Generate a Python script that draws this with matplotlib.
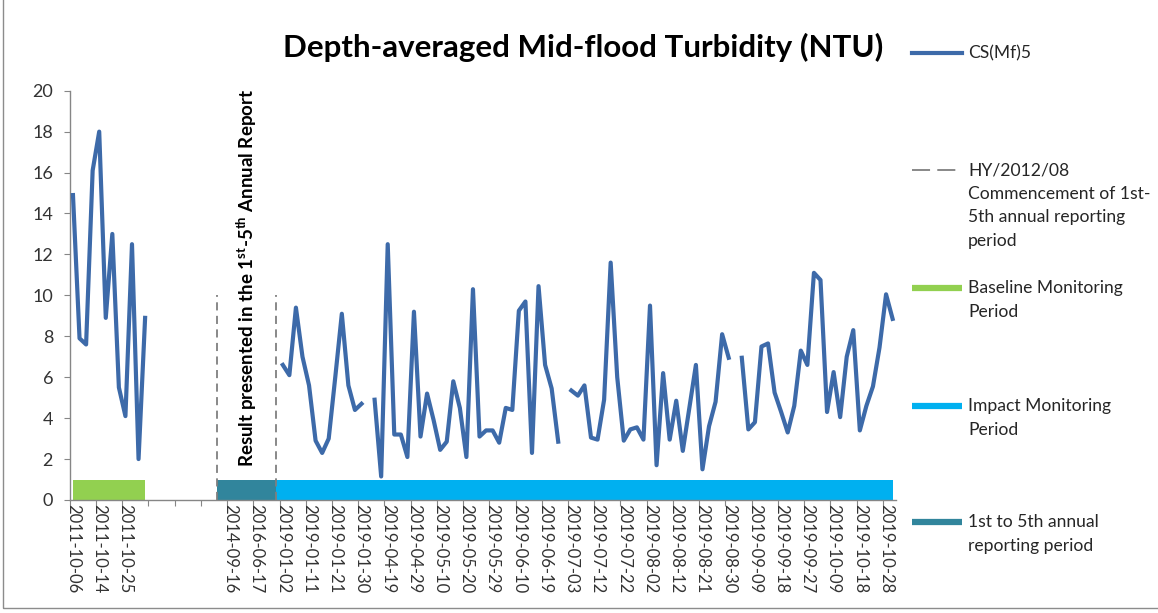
import numpy as np
import matplotlib
matplotlib.use("Agg")
import matplotlib.pyplot as plt
from matplotlib.lines import Line2D
from matplotlib.patches import Rectangle

plt.rcParams['font.family'] = ['Lato', 'DejaVu Sans']
plt.rcParams['mathtext.fontset'] = 'custom'
plt.rcParams['mathtext.rm'] = 'Lato'
plt.rcParams['mathtext.bf'] = 'Lato:bold'

nan = np.nan

# baseline survey (categories 0-11)
baseline_vals = [14.9, 7.9, 7.6, 16.1, 18.0, 8.9, 13.0, 5.5, 4.1, 12.5, 2.0, 8.9]
# 2019 impact monitoring (categories 32-125)
impact_vals = [6.6, 6.1, 9.4, 7.0, 5.6, 2.9, 2.3, 3.0, 6.0, 9.1, 5.6, 4.4, 4.7, nan,
               4.9, 1.15, 12.5, 3.2, 3.2, 2.1, 9.2, 3.1, 5.2, 3.9, 2.45, 2.85, 5.8, 4.5,
               2.1, 10.3, 3.1, 3.4, 3.4, 2.8, 4.5, 4.4, 9.25, 9.7, 2.3, 10.45, 6.6, 5.45,
               2.85, nan,
               5.35, 5.1, 5.6, 3.05, 2.95, 4.9, 11.6, 6.0, 2.9, 3.45, 3.55, 2.95, 9.5,
               1.7, 6.2, 2.95, 4.85, 2.4, 4.5, 6.6, 1.5, 3.6, 4.8, 8.1, 6.95, nan,
               6.95, 3.45, 3.8, 7.5, 7.65, 5.25, 4.3, 3.3, 4.6, 7.3, 6.6, 11.1, 10.75,
               4.3, 6.25, 4.05, 7.0, 8.3, 3.4, 4.6, 5.55, 7.45, 10.05, 8.85]
n_gap = 20  # categories 12-31 without data
n_cat = len(baseline_vals) + n_gap + len(impact_vals)
turbidity = baseline_vals + [nan] * n_gap + impact_vals

# every 4th category is labelled
tick_labels = ["2011-10-06", "2011-10-14", "2011-10-25", "", "", "",
               "2014-09-16", "2016-06-17", "2019-01-02", "2019-01-11", "2019-01-21",
               "2019-01-30", "2019-04-19", "2019-04-29", "2019-05-10", "2019-05-20",
               "2019-05-29", "2019-06-10", "2019-06-19", "2019-07-03", "2019-07-12",
               "2019-07-22", "2019-08-02", "2019-08-12", "2019-08-21", "2019-08-30",
               "2019-09-09", "2019-09-18", "2019-09-27", "2019-10-09", "2019-10-18",
               "2019-10-28"]

# period bars (start / end category)
period_names = ["Baseline Monitoring\nPeriod", "Impact Monitoring\nPeriod",
                "1st to 5th annual\nreporting period"]
period_start = [0, 31, 22]
period_end = [11, 125, 31]
period_colors = ["#92D050", "#00B0F0", "#31859C"]
period_height = 1.0

# HY/2012/08 marker lines
marker_cats = [22, 31]
marker_height = 10

W, H = 1158, 613
fig = plt.figure(figsize=(W / 100, H / 100), dpi=100)
ax = fig.add_axes([69.7 / W, 1 - 500 / H, (895.9 - 69.7) / W, (500 - 90.7) / H])

x = np.arange(n_cat)
for s, e, c in zip(period_start, period_end, period_colors):
    ax.fill_between([s, e], 0, period_height, color=c, lw=0, zorder=1)

ax.vlines(marker_cats, 0, marker_height, colors="#7F7F7F", lw=1.3,
          linestyles=(0, (4.5, 3)), zorder=2)

line_color = "#3D6AA9"
ax.plot(x, turbidity, color=line_color, lw=3.0, zorder=3)

ax.text(np.mean(marker_cats), 1.6,
        r"Result presented in the 1$^{\mathbf{st}}$-5$^{\mathbf{th}}$ Annual Report",
        rotation=90, ha="center", va="bottom", fontsize=13.5, fontweight="bold",
        color="black")

ax.set_xlim(-0.5, n_cat - 0.5)
ax.set_ylim(0, 20)
ax.set_yticks(np.arange(0, 21, 2))
ax.tick_params(axis="y", length=4, color="#868686", pad=8, labelsize=13,
               labelcolor="#333333")

ax.set_xticks(np.arange(-0.5, n_cat - 1, 4))
ax.set_xticklabels([])
ax.tick_params(axis="x", which="major", length=4, color="#868686")
ax.set_xticks(np.arange(0, n_cat, 4), minor=True)
ax.set_xticklabels(tick_labels, minor=True, rotation=-90)
ax.tick_params(axis="x", which="minor", length=0, pad=3, labelsize=12,
               labelcolor="#333333")

for side in ["top", "right"]:
    ax.spines[side].set_visible(False)
for side in ["left", "bottom"]:
    ax.spines[side].set_color("#868686")
    ax.spines[side].set_linewidth(1)

fig.text(583 / W, 1 - 47 / H, "Depth-averaged Mid-flood Turbidity (NTU)",
         ha="center", va="center", fontsize=22.5, fontweight="bold", color="black")

# legend drawn by hand so the key sits next to the first text line
legend_labels = ["CS(Mf)5",
                 "HY/2012/08\nCommencement of 1st-\n5th annual reporting\nperiod"] + [
                    period_names[0], period_names[1], period_names[2]]
legend_y = [53, 170, 288, 406, 522]
legend_styles = [dict(color=line_color, lw=3.0),
                 dict(color="#7F7F7F", lw=1.3, ls=(0, (10, 4)))] + [
                    dict(color=c, lw=4.5, solid_capstyle="butt") for c in
                    [period_colors[0], period_colors[1], period_colors[2]]]
for lab, yy, st in zip(legend_labels, legend_y, legend_styles):
    fig.add_artist(Line2D([912 / W, 962 / W], [1 - yy / H, 1 - yy / H], **st))
    for k, part in enumerate(lab.split("\n")):
        fig.text(968 / W, 1 - (yy + k * 23.7) / H, part, ha="left", va="center",
                 fontsize=12.6, color="#262626")

# chart area border (left and bottom visible)
fig.add_artist(Rectangle((3 / W, 1 - 608 / H), 1.2, 1.2, transform=fig.transFigure,
                         fill=False, edgecolor="#8C8C8C", lw=1))

fig.savefig("out.png", dpi=100)
